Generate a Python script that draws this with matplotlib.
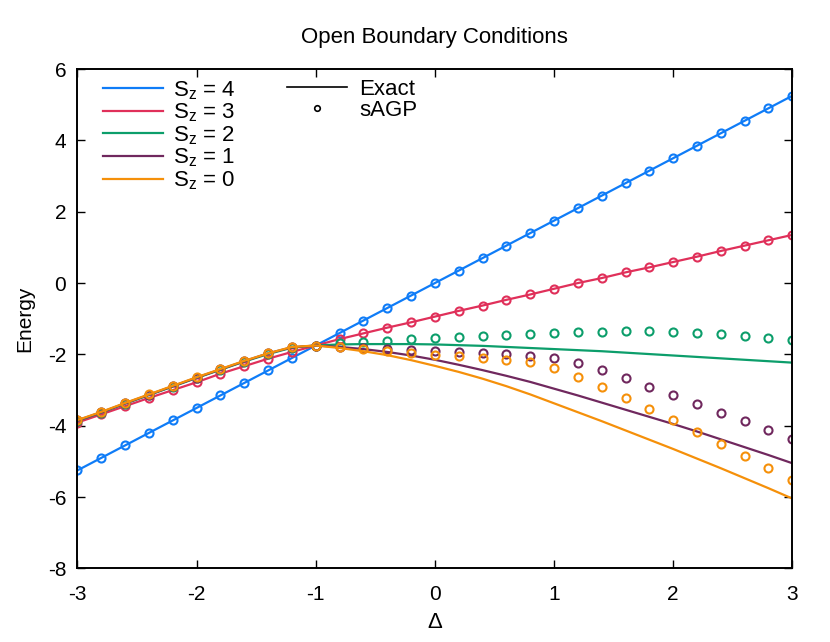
import numpy as np
import matplotlib
matplotlib.use("Agg")
import matplotlib.pyplot as plt
from matplotlib.lines import Line2D

plt.rcParams['font.family'] = ['Liberation Sans', 'DejaVu Sans']
plt.rcParams['mathtext.fontset'] = 'custom'
plt.rcParams['mathtext.rm'] = 'Liberation Sans'
plt.rcParams['mathtext.default'] = 'regular'
plt.rcParams['axes.unicode_minus'] = False

# anisotropy values
delta = [-3.0, -2.8, -2.6, -2.4, -2.2, -2.0, -1.8, -1.6, -1.4, -1.2, -1.0,
         -0.8, -0.6, -0.4, -0.2, 0.0, 0.2, 0.4, 0.6, 0.8, 1.0,
         1.2, 1.4, 1.6, 1.8, 2.0, 2.2, 2.4, 2.6, 2.8, 3.0]

# exact energies
exact_sz4 = [-5.25, -4.90, -4.55, -4.20, -3.85, -3.50, -3.15, -2.80, -2.45, -2.10, -1.75,
             -1.40, -1.05, -0.70, -0.35, 0.00, 0.35, 0.70, 1.05, 1.40, 1.75,
             2.10, 2.45, 2.80, 3.15, 3.50, 3.85, 4.20, 4.55, 4.90, 5.25]
exact_sz3 = [-3.91, -3.68, -3.45, -3.22, -3.00, -2.78, -2.54, -2.33, -2.12, -1.93, -1.75,
             -1.57, -1.41, -1.25, -1.10, -0.94, -0.78, -0.63, -0.47, -0.32, -0.16,
             0.00, 0.14, 0.30, 0.44, 0.59, 0.74, 0.90, 1.05, 1.20, 1.35]
exact_sz2 = [-3.86, -3.63, -3.38, -3.14, -2.90, -2.66, -2.43, -2.20, -1.99, -1.81, -1.75,
             -1.72, -1.71, -1.71, -1.71, -1.72, -1.74, -1.76, -1.79, -1.82, -1.85,
             -1.88, -1.91, -1.95, -1.99, -2.03, -2.07, -2.11, -2.15, -2.19, -2.23]
exact_sz1 = [-3.85, -3.62, -3.37, -3.13, -2.89, -2.65, -2.42, -2.19, -1.97, -1.80, -1.75,
             -1.79, -1.85, -1.93, -2.03, -2.15, -2.29, -2.44, -2.60, -2.77, -2.96,
             -3.15, -3.35, -3.55, -3.75, -3.95, -4.16, -4.38, -4.60, -4.82, -5.05]
exact_sz0 = [-3.84, -3.61, -3.36, -3.12, -2.88, -2.64, -2.41, -2.18, -1.97, -1.79, -1.75,
             -1.82, -1.91, -2.02, -2.16, -2.32, -2.49, -2.68, -2.89, -3.12, -3.37,
             -3.62, -3.87, -4.13, -4.39, -4.65, -4.92, -5.19, -5.47, -5.75, -6.04]

# sAGP energies
sagp_sz4 = exact_sz4
sagp_sz3 = exact_sz3
sagp_sz2 = [-3.86, -3.63, -3.38, -3.14, -2.90, -2.66, -2.43, -2.20, -1.99, -1.81, -1.75,
            -1.67, -1.64, -1.62, -1.58, -1.55, -1.52, -1.49, -1.46, -1.43, -1.40,
            -1.38, -1.36, -1.35, -1.34, -1.36, -1.39, -1.44, -1.49, -1.53, -1.59]
sagp_sz1 = [-3.85, -3.62, -3.37, -3.13, -2.89, -2.65, -2.42, -2.19, -1.97, -1.80, -1.75,
            -1.79, -1.82, -1.84, -1.87, -1.90, -1.93, -1.96, -2.00, -2.05, -2.11,
            -2.24, -2.44, -2.67, -2.91, -3.15, -3.38, -3.63, -3.87, -4.11, -4.36]
sagp_sz0 = [-3.84, -3.61, -3.36, -3.12, -2.88, -2.64, -2.41, -2.18, -1.97, -1.79, -1.75,
            -1.79, -1.85, -1.90, -1.96, -2.01, -2.05, -2.10, -2.15, -2.21, -2.37,
            -2.63, -2.92, -3.22, -3.53, -3.85, -4.18, -4.50, -4.84, -5.18, -5.52]

labels = ["S$_z$ = 4", "S$_z$ = 3", "S$_z$ = 2", "S$_z$ = 1", "S$_z$ = 0"]
colors = ["#0f7cf7", "#e0305a", "#0c9e6b", "#70285e", "#f5900a"]
exact = [exact_sz4, exact_sz3, exact_sz2, exact_sz1, exact_sz0]
sagp = [sagp_sz4, sagp_sz3, sagp_sz2, sagp_sz1, sagp_sz0]

fig = plt.figure(figsize=(8.3, 6.42), dpi=100)
ax = fig.add_axes([0.0933, 0.1145, 0.8613, 0.778])

handles = []
for lab, col, ex, sg in zip(labels, colors, exact, sagp):
    h, = ax.plot(delta, ex, color=col, lw=1.6, label=lab)
    ax.plot(delta, sg, ls="none", marker="o", ms=5.8, mfc="none", mec=col, mew=1.5)
    handles.append(h)

ax.set_xlim(-3, 3)
ax.set_ylim(-8, 6)
ax.set_xticks([-3, -2, -1, 0, 1, 2, 3])
ax.set_yticks([-8, -6, -4, -2, 0, 2, 4, 6])
ax.tick_params(direction="in", length=6, width=1, top=True, right=True,
               labelsize=15, pad=8)
ax.tick_params(axis="x", pad=12)
for s in ax.spines.values():
    s.set_linewidth(1.4)

ax.set_title("Open Boundary Conditions", fontsize=16, pad=19)
ax.set_xlabel("Δ", fontsize=16, labelpad=6)
ax.set_ylabel("Energy", fontsize=15, labelpad=10)

leg1 = ax.legend(handles=handles, loc="upper left", frameon=False, fontsize=16,
                 handlelength=2.7, handletextpad=0.45, labelspacing=0.0,
                 borderpad=0, borderaxespad=0, bbox_to_anchor=(0.036, 0.98))
ax.add_artist(leg1)
style = [Line2D([], [], color="black", lw=1.2),
         Line2D([], [], ls="none", marker="o", ms=4, mfc="none", mec="black", mew=1.2)]
ax.legend(style, ["Exact", "sAGP"], loc="upper left", frameon=False, fontsize=16,
          handlelength=2.7, handletextpad=0.55, labelspacing=0.0,
          borderpad=0, borderaxespad=0, bbox_to_anchor=(0.293, 0.98))

fig.savefig("out.png", dpi=100)
